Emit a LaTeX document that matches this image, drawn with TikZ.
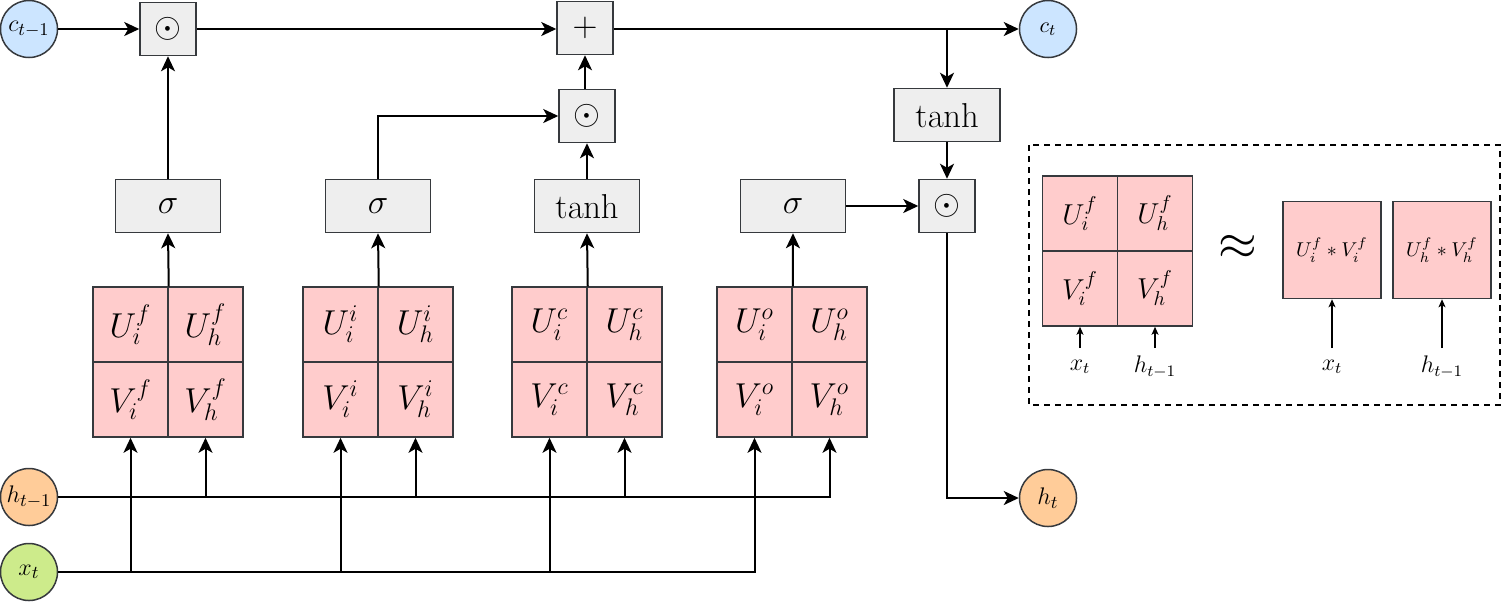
\documentclass[tikz,border=0pt]{standalone}
\usetikzlibrary{arrows.meta}
\definecolor{bd}{HTML}{36393D}
\definecolor{opfill}{HTML}{EEEEEE}
\definecolor{pinkf}{HTML}{FFCCCC}
\definecolor{bluef}{HTML}{CCE5FF}
\definecolor{orangef}{HTML}{FFCC99}
\definecolor{greenf}{HTML}{CDEB8B}
\tikzset{
 op/.style={draw=bd, fill=opfill, line width=0.75pt, minimum width=28pt, minimum height=26.5pt, inner sep=0pt, font=\fontsize{16}{19}\selectfont},
 act/.style={op, minimum width=52.5pt, font=\fontsize{16}{19}\selectfont},
 sig/.style={act, font=\fontsize{17.28}{20}\selectfont},
 cell/.style={draw=bd, fill=pinkf, line width=0.75pt, minimum size=37.5pt, inner sep=0pt, font=\fontsize{18}{21}\selectfont},
 scell/.style={cell, font=\fontsize{14}{16}\selectfont},
 uvbox/.style={draw=bd, fill=pinkf, line width=0.75pt, minimum width=49pt, minimum height=48.5pt, inner sep=0pt, font=\fontsize{10}{12}\selectfont},
 circ/.style={circle, draw=bd, line width=0.75pt, minimum size=28.5pt, inner sep=0pt},
 ctext/.style={font=\fontsize{#1}{#1}\selectfont, inner sep=0pt},
 arr/.style={-{Stealth[length=7.5pt,width=7pt,inset=2pt]}, line width=1pt},
 sarr/.style={-{Stealth[length=4pt,width=3.5pt,inset=1pt]}, line width=0.6pt},
 lbl/.style={inner sep=1pt, font=\fontsize{12}{14}\selectfont},
}
\begin{document}
\begin{tikzpicture}[x=0.5pt,y=-0.5pt]
\useasboundingbox (0,0) rectangle (1503,602);
% circles
\node[circ, fill=bluef, label={[ctext=12.5]center:$c_{t-1}$}] (ctm) at (29,29) {};
\node[circ, fill=bluef, label={[ctext=11]center:$c_t$}] (ct) at (1048,29) {};
\node[circ, fill=orangef, label={[ctext=12.5]center:$h_{t-1}$}] (htm) at (29,497) {};
\node[circ, fill=greenf, label={[ctext=12.5]center:$x_t$}] (xt) at (29,572) {};
\node[circ, fill=orangef, label={[ctext=13]center:$h_t$}] (ht) at (1048,498) {};
% operations
\node[op] (o1) at (168,29) {$\odot$};
\node[op] (plus) at (585,28) {$+$};
\node[op] (om) at (587,116) {$\odot$};
\node[act, minimum width=53pt] (tR) at (947,115) {$\tanh$};
\node[op] (oR) at (947,206) {$\odot$};
\node[sig] (s1) at (168,206) {$\sigma$};
\node[sig] (s2) at (378,206) {$\sigma$};
\node[act] (t3) at (587,206) {$\tanh$};
\node[sig] (s4) at (793,206) {$\sigma$};
% matrices
\foreach \n/\x/\g in {a/93/f, b/303/i, c/512/c, d/717/o}{
  \node[cell] (\n ui) at (\x+37.5,324.5) {$U_i^{\g}$};
  \node[cell] (\n uh) at (\x+112.5,324.5) {$U_h^{\g}$};
  \node[cell] (\n vi) at (\x+37.5,399.5) {$V_i^{\g}$};
  \node[cell] (\n vh) at (\x+112.5,399.5) {$V_h^{\g}$};
}
% top line
\draw[arr] (ctm) -- (o1);
\draw[arr] (o1.east) -- (plus.west |- o1.east);
\draw[arr] (plus.east |- ct.west) -- (ct.west);
\coordinate (br) at (tR.north |- ct.west);
\draw[arr] (br) -- (tR.north);
\draw[arr] (tR) -- (oR);
\draw[arr] (s4) -- (oR);
\draw[arr] (oR.south) |- (ht.west);
\draw[arr] (om.north -| plus.south) -- (plus.south);
\draw[arr] (t3) -- (om);
\draw[arr] (s2.north) |- (om.west);
\draw[arr] (s1) -- (o1);
% matrices to activations
\draw[arr] (aui.north east) -- (s1.south);
\draw[arr] (bui.north east) -- (s2.south);
\draw[arr] (cui.north east) -- (t3.south);
\draw[arr] (dui.north east) -- (s4.south);
% inputs
\draw[arr] (htm.east) -| (dvh.south);
\foreach \n in {a,b,c}{ \draw[arr] (\n vh.south |- htm.east) -- (\n vh.south); }
\draw[arr] (xt.east) -| (dvi.south);
\foreach \n in {a,b,c}{ \draw[arr] (\n vi.south |- xt.east) -- (\n vi.south); }
% legend
\draw[dashed, line width=0.75pt, dash pattern=on 3pt off 2.5pt] (1029,145) rectangle (1500,405);
\node[scell] (eui) at (1080,213.5) {$U_i^{f}$};
\node[scell] (euh) at (1155,213.5) {$U_h^{f}$};
\node[scell] (evi) at (1080,288.5) {$V_i^{f}$};
\node[scell] (evh) at (1155,288.5) {$V_h^{f}$};
\node[lbl] (lx1) at (1080,367) {$x_t$};
\node[lbl] (lh1) at (1155,367) {$h_{t-1}$};
\coordinate (ax1) at (1080,348);
\coordinate (ah1) at (1155,348);
\draw[sarr] (ax1) -- (evi.south);
\draw[sarr] (ah1) -- (evh.south);
\node[font=\fontsize{28}{32}\selectfont] (apx) at (1238,247) {$\approx$};
\node[uvbox] (uv1) at (1332,250) {$U_i^f * V_i^f$};
\node[uvbox] (uv2) at (1442,250) {$U_h^f * V_h^f$};
\node[lbl] (lx2) at (1332,367) {$x_t$};
\node[lbl] (lh2) at (1442,367) {$h_{t-1}$};
\coordinate (ax2) at (1332,348);
\coordinate (ah2) at (1442,348);
\draw[sarr] (ax2) -- (uv1.south);
\draw[sarr] (ah2) -- (uv2.south);
\end{tikzpicture}
\end{document}
